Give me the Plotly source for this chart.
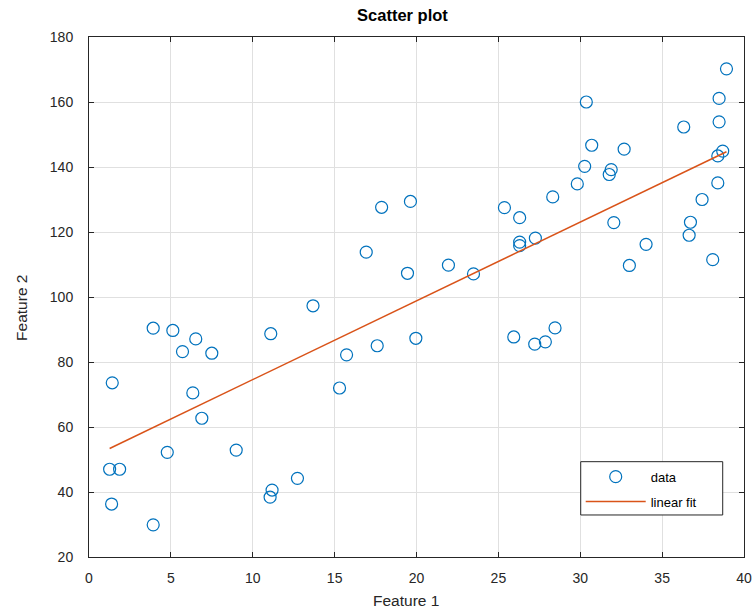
import plotly.graph_objects as go

feature1 = [1.42, 1.26, 1.87, 1.38, 3.92, 3.92, 5.12, 5.71, 6.52, 7.50,
            6.34, 6.89, 4.78, 8.99, 11.10, 11.18, 11.06, 12.73, 13.68, 15.30,
            15.73, 17.60, 19.96, 25.94, 27.22, 27.87, 28.46, 17.87, 19.63, 16.93,
            19.45, 38.93, 30.37, 38.48, 36.32, 38.48, 30.70, 32.68, 38.70, 38.40,
            30.27, 31.89, 31.77, 29.82, 38.40, 28.32, 37.44, 25.37, 26.30, 32.05,
            36.73, 26.30, 26.30, 27.26, 36.65, 34.02, 21.95, 23.48, 33.00, 38.09]
feature2 = [73.6, 47.0, 47.0, 36.3, 29.9, 90.4, 89.7, 83.2, 87.1, 82.7,
            70.5, 62.7, 52.2, 52.9, 88.7, 40.6, 38.4, 44.2, 97.3, 72.0,
            82.2, 85.0, 87.3, 87.7, 85.5, 86.2, 90.5, 127.6, 129.4, 113.8,
            107.3, 170.2, 160.0, 161.1, 152.3, 153.9, 146.7, 145.5, 144.9, 143.4,
            140.2, 139.2, 137.7, 134.8, 135.1, 130.8, 130.0, 127.5, 124.4, 122.9,
            123.0, 116.9, 115.8, 118.1, 119.0, 116.2, 109.8, 107.1, 109.7, 111.5]

fit_x = [1.26, 38.93]
fit_y = [53.4, 144.7]

x_ticks = [0, 5, 10, 15, 20, 25, 30, 35, 40]
y_ticks = [20, 40, 60, 80, 100, 120, 140, 160, 180]

blue = "#0072BD"
orange = "#D95319"
axcol = "#262626"
font = "Liberation Sans, Arial, sans-serif"

fig = go.Figure()
fig.add_trace(go.Scatter(
    x=feature1, y=feature2, mode="markers", name="data", legendgroup="a",
    marker=dict(symbol="circle-open", size=12, color=blue, line=dict(width=1.2, color=blue)),
))
fig.add_trace(go.Scatter(
    x=fit_x, y=fit_y, mode="lines", name="linear fit", legendgroup="b",
    line=dict(color=orange, width=1.5),
))

axis_common = dict(
    showline=True, linecolor=axcol, linewidth=1, mirror="allticks",
    ticks="inside", ticklen=5, tickcolor=axcol, tickwidth=1,
    showgrid=True, gridcolor="#e0e0e0", gridwidth=1, zeroline=False,
    tickfont=dict(family=font, size=14, color=axcol),
)

fig.update_xaxes(range=[0, 40], tickvals=x_ticks, ticktext=[str(v) for v in x_ticks],
                 ticklabelstandoff=8, **axis_common)
fig.update_yaxes(range=[20, 180], tickvals=y_ticks, ticktext=[str(v) for v in y_ticks],
                 ticklabelstandoff=12, **axis_common)

fig.add_annotation(text="Feature 1", xref="paper", yref="paper", x=0.484, y=-0.0827,
                   xanchor="center", yanchor="middle", showarrow=False,
                   font=dict(family=font, size=15.5, color=axcol))
fig.add_annotation(text="Feature 2", xref="paper", yref="paper", x=-0.1023, y=0.479,
                   xanchor="center", yanchor="middle", showarrow=False, textangle=-90,
                   font=dict(family=font, size=15.5, color=axcol))

# legend frame
fig.add_shape(type="rect", xref="paper", yref="paper",
              x0=0.7507, x1=0.9675, y0=0.0808, y1=0.1833,
              line=dict(color=axcol, width=1), fillcolor="white", layer="above")

fig.update_layout(
    width=752, height=610,
    margin=dict(l=89, r=8, t=37, b=53, autoexpand=False),
    paper_bgcolor="white", plot_bgcolor="white",
    title=dict(text="<b>Scatter plot</b>", x=0.4786, xanchor="center", y=0.9754, yanchor="middle",
               xref="paper", yref="container",
               font=dict(family=font, size=16.5, color="black")),
    showlegend=True,
    legend=dict(x=0.7507, y=0.1833, xanchor="left", yanchor="top",
                borderwidth=0, bgcolor="rgba(0,0,0,0)",
                font=dict(family=font, size=13, color="black"),
                traceorder="grouped", tracegroupgap=5,
                itemwidth=60),
)

fig.write_html("out.html", config={"displayModeBar": False},
               post_script="document.body.style.margin='0';")
